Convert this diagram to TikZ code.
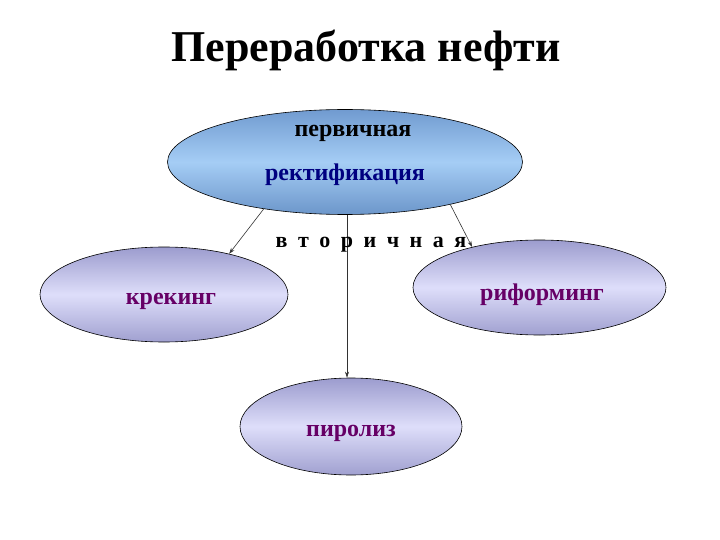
\documentclass[tikz,border=0pt]{standalone}
\usepackage{fontspec}
\setmainfont{Liberation Serif}
\usetikzlibrary{shapes.geometric,arrows.meta}
\definecolor{navyt}{HTML}{000080}
\definecolor{purp}{HTML}{660066}
\tikzset{
  blueell/.style={ellipse, draw=black, line width=0.6pt, top color={rgb,255:red,112;green,155;blue,208}, bottom color={rgb,255:red,108;green,150;blue,202}, middle color={rgb,255:red,165;green,205;blue,245}, inner sep=0pt},
  lavell/.style={ellipse, draw=black, line width=0.6pt, top color={rgb,255:red,156;green,156;blue,206}, bottom color={rgb,255:red,160;green,160;blue,208}, middle color={rgb,255:red,222;green,222;blue,250}, inner sep=0pt},
  lbl/.style={font=\bfseries\fontsize{24}{28}\selectfont, inner sep=0pt},
  conn/.style={draw={rgb,255:red,50;green,50;blue,50}, line width=0.6pt, -{Stealth[length=6pt,width=4pt]}},
}
\begin{document}
\begin{tikzpicture}[x=1pt,y=-1pt]
\useasboundingbox (0,0) rectangle (720,540);
\node[font=\bfseries\fontsize{44}{48}\selectfont, inner sep=0pt] (title) at (366,50) {Переработка нефти};
\node[blueell, minimum width=355pt, minimum height=105pt] (top) at (345,162) {};
\node[lavell, minimum width=248pt, minimum height=95pt] (kr) at (164,294.5) {};
\node[lavell, minimum width=253pt, minimum height=95pt] (rf) at (539.5,287.5) {};
\node[lavell, minimum width=222pt, minimum height=97pt] (pir) at (351,426.5) {};
\node[lbl] (t1) at (353,133) {первичная};
\node[lbl, text=navyt] (t2) at (345,175) {ректификация};
\node[lbl, text=purp] (t3) at (171,301) {крекинг};
\node[lbl, text=purp] (t4) at (542,295) {риформинг};
\node[lbl, text=purp] (t5) at (351,433) {пиролиз};
\draw[conn] (top.210) -- (kr.32);
\draw[conn] (top.-22) -- (rf.149);
\draw[conn] ([xshift=2pt]top.south) -- ([xshift=2pt]top.south |- pir.north);
\node[lbl, font=\bfseries\fontsize{22}{26}\selectfont] (vt) at (371,245) {\spaceskip=10.5pt в т о р и ч н а я};
\end{tikzpicture}
\end{document}
